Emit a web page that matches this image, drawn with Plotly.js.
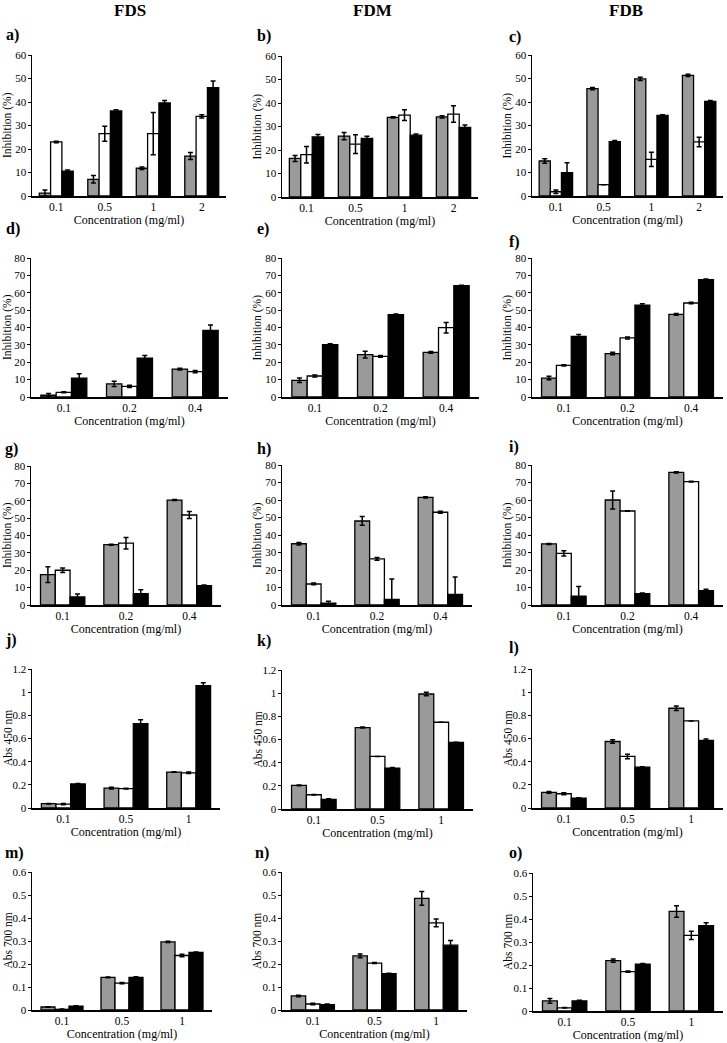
<!DOCTYPE html>
<html><head><meta charset="utf-8">
<script src="https://cdn.plot.ly/plotly-3.0.1.min.js"></script>
<style>html,body{margin:0;padding:0;background:#fff}#chart{width:727px;height:1043px}</style>
</head><body><div id="chart"></div>
<script>
// ---- categories ----
const conc1 = ['0.1', '0.5', '1', '2'];
const conc2 = ['0.1', '0.2', '0.4'];
const conc3 = ['0.1', '0.5', '1'];
const colTitles = ['FDS', 'FDM', 'FDB'];

// ---- a) FDS ----
const aGray = [1.2, 7.1, 11.8, 17.0], aGrayErr = [1.4, 1.6, 0.5, 1.5];
const aWhite = [23.0, 26.5, 26.5, 33.9], aWhiteErr = [0.3, 3.2, 9.0, 0.7];
const aBlack = [10.6, 36.2, 39.6, 46.1], aBlackErr = [0.5, 0.5, 1.0, 2.8];
// ---- b) FDM ----
const bGray = [16.4, 25.9, 33.9, 34.1], bGrayErr = [1.3, 1.5, 0.3, 0.5];
const bWhite = [18.0, 22.5, 34.8, 35.3], bWhiteErr = [3.5, 4.0, 2.3, 3.5];
const bBlack = [25.6, 24.9, 26.3, 29.6], bBlackErr = [1.0, 1.0, 0.5, 1.0];
// ---- c) FDB ----
const cGray = [14.9, 45.7, 49.8, 51.3], cGrayErr = [1.0, 0.5, 0.7, 0.5];
const cWhite = [1.8, 4.8, 15.6, 23.0], cWhiteErr = [0.7, 0, 3.0, 2.0];
const cBlack = [9.9, 23.1, 34.3, 40.3], cBlackErr = [4.3, 0.5, 0.3, 0.3];
// ---- d) ----
const dGray = [1.0, 7.5, 16.1], dGrayErr = [1.0, 1.5, 0.5];
const dWhite = [2.7, 6.1, 14.6], dWhiteErr = [0.3, 0.7, 0.6];
const dBlack = [10.9, 22.3, 38.4], dBlackErr = [2.5, 1.6, 3.0];
// ---- e) ----
const eGray = [9.6, 24.4, 25.7], eGrayErr = [1.3, 2.0, 0.5];
const eWhite = [12.1, 23.4, 39.9], eWhiteErr = [0.6, 0.5, 3.0];
const eBlack = [30.1, 47.4, 64.1], eBlackErr = [0.5, 0.4, 0.2];
// ---- f) ----
const fGray = [10.9, 25.0, 47.6], fGrayErr = [1.0, 0.7, 0.5];
const fWhite = [18.2, 34.0, 54.1], fWhiteErr = [0.3, 0.6, 0.5];
const fBlack = [34.9, 52.8, 67.6], fBlackErr = [1.0, 0.8, 0.3];
// ---- g) ----
const gGray = [17.5, 34.7, 60.4], gGrayErr = [4.5, 0.3, 0.3];
const gWhite = [20.0, 35.6, 51.8], gWhiteErr = [1.3, 3.3, 2.0];
const gBlack = [4.6, 6.5, 11.2], gBlackErr = [1.8, 2.3, 0.3];
// ---- h) ----
const hGray = [35.0, 48.0, 61.5], hGrayErr = [0.7, 2.5, 0.3];
const hWhite = [12.0, 26.3, 53.0], hWhiteErr = [0.5, 0.8, 0.6];
const hBlack = [1.0, 3.2, 6.1], hBlackErr = [1.2, 11.7, 9.9];
// ---- i) ----
const iGray = [34.9, 60.0, 75.8], iGrayErr = [0.3, 5.2, 0.4];
const iWhite = [29.5, 53.7, 70.5], iWhiteErr = [1.5, 0.2, 0.2];
const iBlack = [5.1, 6.5, 8.2], iBlackErr = [5.4, 0.4, 0.8];
// ---- j) ----
const jGray = [0.037, 0.172, 0.310], jGrayErr = [0.002, 0.008, 0.002];
const jWhite = [0.034, 0.167, 0.304], jWhiteErr = [0.005, 0.003, 0.006];
const jBlack = [0.207, 0.729, 1.057], jBlackErr = [0.005, 0.032, 0.025];
// ---- k) ----
const kGray = [0.204, 0.703, 0.993], kGrayErr = [0.004, 0.004, 0.015];
const kWhite = [0.123, 0.454, 0.749], kWhiteErr = [0.003, 0, 0];
const kBlack = [0.083, 0.353, 0.574], kBlackErr = [0.005, 0.005, 0.003];
// ---- l) ----
const lGray = [0.135, 0.574, 0.861], lGrayErr = [0.008, 0.015, 0.02];
const lWhite = [0.123, 0.445, 0.752], lWhiteErr = [0.008, 0.02, 0];
const lBlack = [0.086, 0.353, 0.583], lBlackErr = [0.002, 0.003, 0.012];
// ---- m) ----
const mGray = [0.013, 0.142, 0.296], mGrayErr = [0.001, 0.002, 0.003];
const mWhite = [0.003, 0.117, 0.237], mWhiteErr = [0.001, 0.003, 0.005];
const mBlack = [0.017, 0.142, 0.250], mBlackErr = [0.002, 0.003, 0.002];
// ---- n) ----
const nGray = [0.061, 0.235, 0.485], nGrayErr = [0.003, 0.008, 0.03];
const nWhite = [0.026, 0.204, 0.379], nWhiteErr = [0.003, 0.002, 0.017];
const nBlack = [0.023, 0.158, 0.282], nBlackErr = [0.003, 0.002, 0.02];
// ---- o) ----
const oGray = [0.044, 0.219, 0.433], oGrayErr = [0.01, 0.007, 0.025];
const oWhite = [0.014, 0.171, 0.329], oWhiteErr = [0.001, 0.003, 0.018];
const oBlack = [0.044, 0.204, 0.371], oBlackErr = [0.003, 0.002, 0.013];

// ---- layout helpers ----
const W = 727, H = 1043;
const fx = p => p / W, fy = p => 1 - p / H;
const FONT = '"Liberation Serif", "Times New Roman", Times, serif';
const fills = ['#9a9a9a', '#ffffff', '#000000'];
const INH = 'Inhibition (%)', A450 = 'Abs 450 nm', A700 = 'Abs 700 nm';

const panels = [
  {lab:'a)', cats:conc1, s:[[aGray,aGrayErr],[aWhite,aWhiteErr],[aBlack,aBlackErr]], yt:INH, ymax:60, dt:10, x:[32,226], y:[55,196], lp:[4,35]},
  {lab:'b)', cats:conc1, s:[[bGray,bGrayErr],[bWhite,bWhiteErr],[bBlack,bBlackErr]], yt:INH, ymax:60, dt:10, x:[282,478], y:[56,197], lp:[255,36]},
  {lab:'c)', cats:conc1, s:[[cGray,cGrayErr],[cWhite,cWhiteErr],[cBlack,cBlackErr]], yt:INH, ymax:60, dt:10, x:[532,723], y:[55,196], lp:[507,37]},
  {lab:'d)', cats:conc2, s:[[dGray,dGrayErr],[dWhite,dWhiteErr],[dBlack,dBlackErr]], yt:INH, ymax:80, dt:10, x:[31,228], y:[258,397], lp:[4,229]},
  {lab:'e)', cats:conc2, s:[[eGray,eGrayErr],[eWhite,eWhiteErr],[eBlack,eBlackErr]], yt:INH, ymax:80, dt:10, x:[282,479], y:[258,397], lp:[255,229]},
  {lab:'f)', cats:conc2, s:[[fGray,fGrayErr],[fWhite,fWhiteErr],[fBlack,fBlackErr]], yt:INH, ymax:80, dt:10, x:[532,723], y:[258,397], lp:[507,242]},
  {lab:'g)', cats:conc2, s:[[gGray,gGrayErr],[gWhite,gWhiteErr],[gBlack,gBlackErr]], yt:INH, ymax:80, dt:10, x:[31,221], y:[466,605], lp:[3,449]},
  {lab:'h)', cats:conc2, s:[[hGray,hGrayErr],[hWhite,hWhiteErr],[hBlack,hBlackErr]], yt:INH, ymax:80, dt:10, x:[282,472], y:[465,605], lp:[255,449]},
  {lab:'i)', cats:conc2, s:[[iGray,iGrayErr],[iWhite,iWhiteErr],[iBlack,iBlackErr]], yt:INH, ymax:80, dt:10, x:[532,723], y:[465,605], lp:[507,447]},
  {lab:'j)', cats:conc3, s:[[jGray,jGrayErr],[jWhite,jWhiteErr],[jBlack,jBlackErr]], yt:A450, ymax:1.2, dt:0.2, x:[32,220], y:[669,808], lp:[3,640]},
  {lab:'k)', cats:conc3, s:[[kGray,kGrayErr],[kWhite,kWhiteErr],[kBlack,kBlackErr]], yt:A450, ymax:1.2, dt:0.2, x:[282,473], y:[670,809], lp:[255,641]},
  {lab:'l)', cats:conc3, s:[[lGray,lGrayErr],[lWhite,lWhiteErr],[lBlack,lBlackErr]], yt:A450, ymax:1.2, dt:0.2, x:[532,723], y:[669,808], lp:[507,648]},
  {lab:'m)', cats:conc3, s:[[mGray,mGrayErr],[mWhite,mWhiteErr],[mBlack,mBlackErr]], yt:A700, ymax:0.6, dt:0.1, x:[32,212], y:[872,1010], lp:[3,853]},
  {lab:'n)', cats:conc3, s:[[nGray,nGrayErr],[nWhite,nWhiteErr],[nBlack,nBlackErr]], yt:A700, ymax:0.6, dt:0.1, x:[282,467], y:[872,1010], lp:[253,853]},
  {lab:'o)', cats:conc3, s:[[oGray,oGrayErr],[oWhite,oWhiteErr],[oBlack,oBlackErr]], yt:A700, ymax:0.6, dt:0.1, x:[533,723], y:[873,1011], lp:[507,853]}
];

const traces = [];
const annotations = [];
const layout = {
  width: W, height: H,
  margin: {l: 0, r: 0, t: 0, b: 0},
  paper_bgcolor: '#fff', plot_bgcolor: 'rgba(0,0,0,0)',
  barmode: 'group', bargap: 0.3, bargroupgap: 0,
  showlegend: false,
  font: {family: FONT, color: '#000', size: 12},
  annotations: annotations
};

// column headers
const headerX = [130, 372, 626];
colTitles.forEach((t, i) => annotations.push({
  text: '<b>' + t + '</b>', xref: 'paper', yref: 'paper', x: fx(headerX[i]), y: fy(10),
  xanchor: 'center', yanchor: 'middle', showarrow: false,
  font: {family: FONT, size: 17, color: '#000'}
}));

panels.forEach((p, i) => {
  const k = i + 1;
  const xs = k === 1 ? 'x' : 'x' + k;
  const ys = k === 1 ? 'y' : 'y' + k;
  p.s.forEach((ser, j) => traces.push({
    type: 'bar', x: p.cats, y: ser[0], xaxis: xs, yaxis: ys,
    marker: {color: fills[j], line: {color: '#000', width: 1.3}},
    error_y: {type: 'data', array: ser[1], visible: true, color: '#000', thickness: 1.5, width: 2.5},
    hoverinfo: 'skip', showlegend: false
  }));
  layout['xaxis' + (k === 1 ? '' : k)] = {
    domain: [fx(p.x[0]), fx(p.x[1])], anchor: ys, type: 'category',
    showline: true, linecolor: '#000', linewidth: 1.5, ticks: '',
    showgrid: false, zeroline: false, fixedrange: true,
    tickfont: {family: FONT, size: 11.5, color: '#000'},
    title: {text: 'Concentration (mg/ml)', font: {family: FONT, size: 12, color: '#000'}, standoff: 3}
  };
  layout['yaxis' + (k === 1 ? '' : k)] = {
    domain: [fy(p.y[1]), fy(p.y[0])], anchor: xs,
    range: [0, p.ymax], dtick: p.dt, tick0: 0,
    showline: true, linecolor: '#000', linewidth: 1.5,
    ticks: 'outside', ticklen: 3, tickwidth: 1, tickcolor: '#000',
    ticklabelstandoff: -1,
    showgrid: false, zeroline: false, fixedrange: true,
    tickfont: {family: FONT, size: 11, color: '#000'}
  };
  // panel label
  annotations.push({
    text: '<b>' + p.lab + '</b>', xref: 'paper', yref: 'paper',
    x: fx(p.lp[0]), y: fy(p.lp[1]), xanchor: 'left', yanchor: 'middle',
    showarrow: false, font: {family: FONT, size: 16, color: '#000'}
  });
  // y-axis title, placed to the left of the tick labels (kept inside the page)
  const titleX = Math.max(p.x[0] - 25, 7.5);
  annotations.push({
    text: p.yt, xref: 'paper', yref: 'paper',
    x: fx(titleX), y: fy((p.y[0] + p.y[1]) / 2), xanchor: 'center', yanchor: 'middle',
    textangle: -90, showarrow: false, font: {family: FONT, size: 11.5, color: '#000'}
  });
});

Plotly.newPlot('chart', traces, layout, {staticPlot: true, displayModeBar: false});
</script>
</body></html>
